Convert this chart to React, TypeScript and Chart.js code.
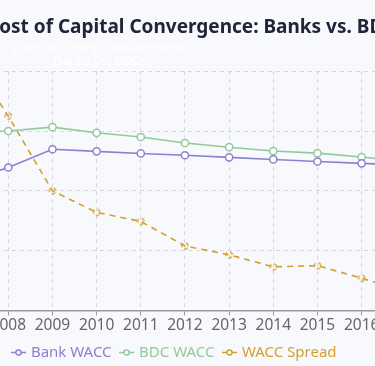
import React, { useEffect, useRef } from 'react';
import { Chart, registerables } from 'chart.js';

Chart.register(...registerables);

const years = ['2007', '2008', '2009', '2010', '2011', '2012', '2013', '2014', '2015', '2016', '2017'];
const bankWacc = [8.3, 8.78, 9.39, 9.32, 9.25, 9.19, 9.12, 9.05, 8.98, 8.92, 8.86];
const bdcWacc = [9.95, 10.0, 10.13, 9.94, 9.8, 9.6, 9.46, 9.33, 9.26, 9.13, 8.98];
const waccSpread = [4.4, 3.25, 2.0, 1.64, 1.49, 1.08, 0.93, 0.73, 0.75, 0.54, 0.32];

const titleText = 'Cost of Capital Convergence: Banks vs. BDCs';
const subtitleLines = ['Cost of Capital Convergence:', 'Banks vs. BDCs'];

const PURPLE = '#8d81cf';
const GREEN = '#92c99b';
const ORANGE = '#d3a02c';
const FONT = "'Noto Sans', 'Open Sans', sans-serif";

const CANVAS_W = 600;
const CANVAS_H = 370;
const CANVAS_LEFT = -125;
const LEFT_AXIS_W = 89.1;
const RIGHT_AXIS_W = 69.2;
const TITLE_SHIFT = 21;
const SUBTITLE_SHIFT = -75;

function legendGlyph(color: string) {
  const c = document.createElement('canvas');
  c.width = 15;
  c.height = 9;
  const ctx = c.getContext('2d')!;
  ctx.strokeStyle = color;
  ctx.lineWidth = 1.5;
  ctx.beginPath();
  ctx.moveTo(0, 4.5);
  ctx.lineTo(15, 4.5);
  ctx.stroke();
  ctx.beginPath();
  ctx.arc(7.5, 4.5, 2.6, 0, Math.PI * 2);
  ctx.fillStyle = '#ffffff';
  ctx.fill();
  ctx.stroke();
  return c;
}

function dashedPoint(color: string) {
  const c = document.createElement('canvas');
  c.width = 10;
  c.height = 10;
  const ctx = c.getContext('2d')!;
  ctx.strokeStyle = color;
  ctx.lineWidth = 1.3;
  ctx.setLineDash([4, 3]);
  ctx.beginPath();
  ctx.arc(5, 5, 3.2, 0.5, 0.5 + Math.PI * 2);
  ctx.stroke();
  return c;
}

export default function App() {
  const ref = useRef<HTMLCanvasElement | null>(null);

  useEffect(() => {
    if (!ref.current) return;
    const glyphs = [legendGlyph(PURPLE), legendGlyph(GREEN), legendGlyph(ORANGE)];
    const colors = [PURPLE, GREEN, ORANGE];
    const chart = new Chart(ref.current, {
      type: 'line',
      data: {
        labels: years,
        datasets: [
          {
            label: 'Bank WACC',
            data: bankWacc,
            borderColor: PURPLE,
            backgroundColor: '#ffffff',
            borderWidth: 1.6,
            pointRadius: 3.6,
            pointBorderWidth: 1.5,
            pointBackgroundColor: '#ffffff',
            pointBorderColor: PURPLE,
            tension: 0,
            yAxisID: 'y',
          },
          {
            label: 'BDC WACC',
            data: bdcWacc,
            borderColor: GREEN,
            backgroundColor: '#ffffff',
            borderWidth: 1.6,
            pointRadius: 3.6,
            pointBorderWidth: 1.5,
            pointBackgroundColor: '#ffffff',
            pointBorderColor: GREEN,
            tension: 0,
            yAxisID: 'y',
          },
          {
            label: 'WACC Spread',
            data: waccSpread,
            borderColor: ORANGE,
            backgroundColor: 'rgba(0,0,0,0)',
            borderWidth: 1.6,
            borderDash: [6, 5],
            pointStyle: dashedPoint(ORANGE) as any,
            pointRadius: 4,
            tension: 0,
            yAxisID: 'y1',
          },
        ],
      },
      options: {
        responsive: false,
        animation: false,
        layout: { padding: 0 },
        plugins: {
          title: {
            display: true,
            text: titleText,
            color: '#23233a',
            font: { family: FONT, size: 19, weight: 'bold' },
            padding: { top: 16, bottom: 0 },
          },
          subtitle: {
            display: true,
            text: subtitleLines,
            color: '#ffffff',
            font: { family: FONT, size: 13, lineHeight: 0.9 },
            padding: { top: 5, bottom: 4 },
          },
          legend: {
            position: 'bottom',
            labels: {
              usePointStyle: true,
              boxWidth: 10,
              boxHeight: 10,
              padding: 10,
              font: { family: FONT, size: 15 },
              generateLabels: (ch: any) =>
                ch.data.datasets.map((ds: any, i: number) => ({
                  text: ds.label,
                  fontColor: colors[i],
                  fillStyle: colors[i],
                  strokeStyle: colors[i],
                  pointStyle: glyphs[i],
                  lineWidth: 0,
                  hidden: false,
                  datasetIndex: i,
                })),
            },
          },
          tooltip: { enabled: false },
        },
        scales: {
          x: {
            offset: false,
            grid: {
              color: '#d6d8de',
              lineWidth: 1,
              tickLength: 5,
              tickColor: '#9a9a9a',
              tickBorderDash: [],
            },
            border: { color: '#9a9a9a', width: 1.5, dash: [4, 4] },
            ticks: {
              color: '#666666',
              font: { family: FONT, size: 15.5, lineHeight: 1.0 },
              padding: 2,
              maxRotation: 0,
            },
          },
          y: {
            position: 'left',
            min: 4,
            max: 12,
            ticks: { stepSize: 2, color: '#666666', font: { family: FONT, size: 15 } },
            grid: { color: '#d6d8de' },
            border: { display: false, dash: [4, 4] },
            afterFit: (s: any) => {
              s.width = LEFT_AXIS_W;
            },
          },
          y1: {
            position: 'right',
            min: 0,
            max: 4,
            ticks: { stepSize: 1, color: '#666666', font: { family: FONT, size: 15 } },
            grid: { drawOnChartArea: false },
            border: { display: false },
            afterFit: (s: any) => {
              s.width = RIGHT_AXIS_W;
            },
          },
        },
      },
      plugins: [
        {
          id: 'shiftHeadings',
          afterLayout: (ch: any) => {
            ch.boxes.forEach((b: any) => {
              if (!b.options || b.options.text === undefined) return;
              const t = JSON.stringify(b.options.text);
              if (t === JSON.stringify(titleText)) {
                b.left += TITLE_SHIFT;
                b.right += TITLE_SHIFT;
              } else if (t === JSON.stringify(subtitleLines)) {
                b.left += SUBTITLE_SHIFT;
                b.right += SUBTITLE_SHIFT;
              }
            });
          },
        },
      ],
    } as any);
    return () => chart.destroy();
  }, []);

  return (
    <div
      style={{
        position: 'fixed',
        left: 0,
        top: 0,
        width: '100%',
        height: '100%',
        overflow: 'hidden',
        background: '#f8f9fc',
      }}
    >
      <canvas
        ref={ref}
        width={CANVAS_W}
        height={CANVAS_H}
        style={{ position: 'absolute', left: CANVAS_LEFT, top: 0, width: CANVAS_W, height: CANVAS_H }}
      />
    </div>
  );
}
